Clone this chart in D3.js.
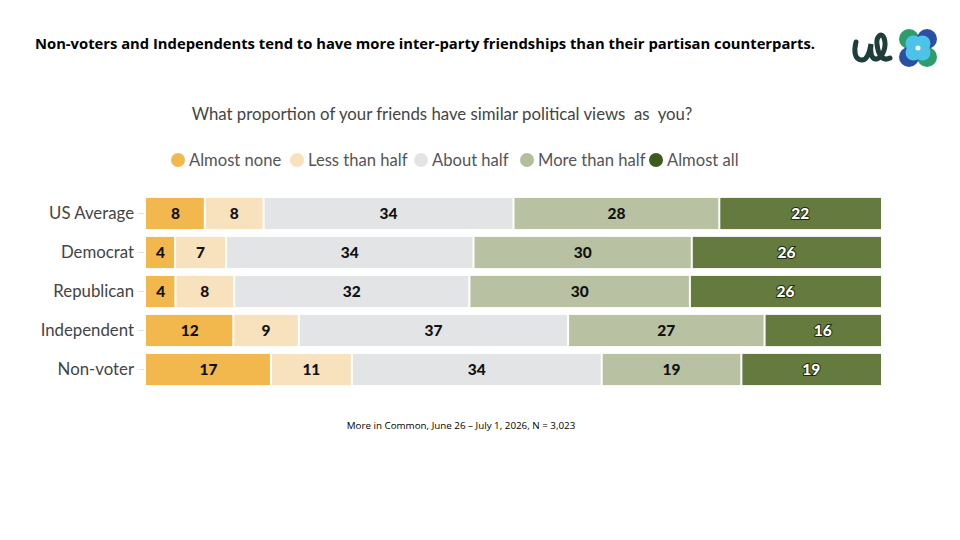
<!DOCTYPE html>
<html>
<head>
<meta charset="utf-8">
<script src="https://cdn.jsdelivr.net/npm/d3@7"></script>
<style>
  body { margin: 0; background: #fff; }
  svg { display: block; }
</style>
</head>
<body>
<div id="chart"></div>
<script>
  const groups = ["US Average", "Democrat", "Republican", "Independent", "Non-voter"];
  const answers = ["Almost none", "Less than half", "About half", "More than half", "Almost all"];
  const almostNone = [8, 4, 4, 12, 17];
  const lessThanHalf = [8, 7, 8, 9, 11];
  const aboutHalf = [34, 34, 32, 37, 34];
  const moreThanHalf = [28, 30, 30, 27, 19];
  const almostAll = [22, 26, 26, 16, 19];

  const colors = ["#f2b84d", "#f8e1bd", "#e3e4e6", "#b8c2a2", "#647a3f"];
  const legendColors = ["#f2b84d", "#f8e1bd", "#e3e4e6", "#b3bf9c", "#3d5a1f"];

  const W = 960, H = 540;
  const svg = d3.select("#chart").append("svg")
    .attr("width", W)
    .attr("height", H);

  // title
  svg.append("text")
    .attr("x", 35)
    .attr("y", 49)
    .attr("font-family", "Open Sans, sans-serif")
    .attr("font-weight", 700)
    .attr("font-size", 14.5)
    .attr("textLength", 780)
    .attr("lengthAdjust", "spacingAndGlyphs")
    .attr("fill", "#000")
    .text("Non-voters and Independents tend to have more inter-party friendships than their partisan counterparts.");

  // logo
  const logo = svg.append("g");
  logo.append("path")
    .attr("d", "M856,42 C854,50 854,60 862,60 C868,60 870,50 871,44 C870,52 871,60 877,59 C883,57 887,46 884,38 C882,32 876,36 877,44 C878,54 882,62 890,58")
    .attr("fill", "none")
    .attr("stroke", "#1f3d3b")
    .attr("stroke-width", 5)
    .attr("stroke-linecap", "round");
  const petals = [[909, 39, "#2e9d6b"], [927, 39, "#2a4fa3"], [909, 57, "#2a4fa3"], [927, 57, "#2e9d6b"]];
  logo.selectAll("circle.petal").data(petals).join("circle")
    .attr("class", "petal")
    .attr("cx", d => d[0]).attr("cy", d => d[1]).attr("r", 10)
    .attr("fill", d => d[2]);
  logo.selectAll("circle.inner").data(petals).join("circle")
    .attr("class", "inner")
    .attr("cx", d => (d[0] + 918) / 2).attr("cy", d => (d[1] + 48) / 2).attr("r", 8)
    .attr("fill", "#4cc4ea");
  logo.append("circle").attr("cx", 918).attr("cy", 48).attr("r", 2.5).attr("fill", "#fff");

  // question
  svg.append("text")
    .attr("x", 442)
    .attr("y", 120)
    .attr("text-anchor", "middle")
    .attr("font-family", "Lato, sans-serif")
    .attr("font-size", 16.8)
    .attr("fill", "#444")
    .attr("xml:space", "preserve")
    .text("What proportion of your friends have similar political views  as  you?");

  // legend
  const legendX = [178, 297, 421, 527, 656];
  const legend = svg.append("g").selectAll("g").data(answers).join("g")
    .attr("transform", (d, i) => `translate(${legendX[i]},160)`);
  legend.append("circle").attr("r", 7).attr("fill", (d, i) => legendColors[i]);
  legend.append("text")
    .attr("x", 11)
    .attr("dy", "0.35em")
    .attr("font-family", "Lato, sans-serif")
    .attr("font-size", 16.6)
    .attr("fill", "#555")
    .text(d => d);

  // bars
  const rows = groups.map((g, i) => {
    const vals = [almostNone[i], lessThanHalf[i], aboutHalf[i], moreThanHalf[i], almostAll[i]];
    const total = d3.sum(vals);
    let acc = 0;
    const segs = vals.map((v, k) => {
      const s = { group: g, k, value: v, x0: acc / total, x1: (acc + v) / total };
      acc += v;
      return s;
    });
    return { group: g, segs };
  });

  const x = d3.scaleLinear().domain([0, 1]).range([146, 881]);
  const y = d3.scaleBand().domain(groups).range([194, 389]).paddingInner(0.2).paddingOuter(0.1);

  const yAxis = svg.append("g")
    .attr("transform", "translate(144,0)")
    .call(d3.axisLeft(y).tickSize(6).tickPadding(4));
  yAxis.select(".domain").remove();
  yAxis.selectAll(".tick line").attr("stroke", "#e2e2e2");
  yAxis.selectAll(".tick text")
    .attr("font-family", "Lato, sans-serif")
    .attr("font-size", 16.8)
    .attr("fill", "#444");

  const rowG = svg.append("g").selectAll("g").data(rows).join("g")
    .attr("transform", d => `translate(0,${y(d.group)})`);

  rowG.selectAll("rect").data(d => d.segs).join("rect")
    .attr("x", d => x(d.x0) + (d.k ? 1 : 0))
    .attr("width", d => x(d.x1) - x(d.x0) - (d.k ? 1 : 0) - (d.k < 4 ? 1 : 0))
    .attr("height", y.bandwidth())
    .attr("fill", d => colors[d.k]);

  rowG.selectAll("text").data(d => d.segs).join("text")
    .attr("x", d => x((d.x0 + d.x1) / 2))
    .attr("y", y.bandwidth() / 2)
    .attr("dy", "0.36em")
    .attr("text-anchor", "middle")
    .attr("font-family", "Lato, sans-serif")
    .attr("font-weight", 900)
    .attr("font-size", 15.5)
    .attr("fill", d => d.k === 4 ? "#fff" : "#111")
    .attr("stroke", d => d.k === 4 ? "#1e2a10" : "none")
    .attr("stroke-width", 2)
    .attr("paint-order", "stroke")
    .text(d => d.value);

  // source
  svg.append("text")
    .attr("x", 461)
    .attr("y", 429)
    .attr("text-anchor", "middle")
    .attr("font-family", "Open Sans, sans-serif")
    .attr("font-size", 9.8)
    .attr("fill", "#000")
    .text("More in Common, June 26 – July 1, 2026, N = 3,023");
</script>
</body>
</html>
